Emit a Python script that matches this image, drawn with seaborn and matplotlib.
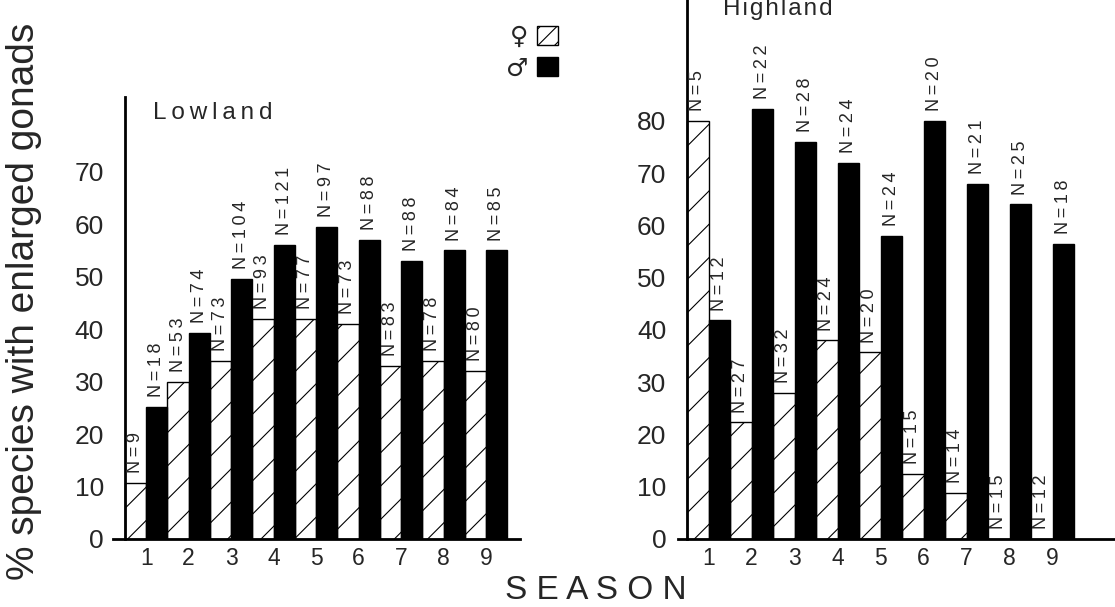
import numpy as np
import pandas as pd
import matplotlib
matplotlib.use("Agg")
import matplotlib.pyplot as plt
from matplotlib.patches import Patch
import seaborn as sns

seasons = ["1", "2", "3", "4", "5", "6", "7", "8", "9"]
low_female = [10.7, 30, 34, 42, 42, 41, 33, 34, 32]
low_male = [25.2, 39.3, 49.5, 56, 59.5, 57, 53, 55, 55]
high_female = [80, 22.3, 28, 38, 35.7, 12.5, 8.8, 0, 0]
high_male = [41.8, 82.3, 76, 72, 58, 80, 68, 64, 56.5]
low_female_n = [9, 53, 73, 93, 77, 73, 83, 78, 80]
low_male_n = [18, 74, 104, 121, 97, 88, 88, 84, 85]
high_female_n = [5, 27, 32, 24, 20, 15, 14, 15, 12]
high_male_n = [12, 22, 28, 24, 24, 20, 21, 25, 18]

sns.set_style("white")
plt.rcParams["font.family"] = ["Liberation Sans", "DejaVu Sans"]
plt.rcParams["hatch.linewidth"] = 0.8
plt.rcParams["hatch.color"] = "black"

W, H = 1115, 607
fig = plt.figure(figsize=(W / 100, H / 100), dpi=100)

def make_df(f, m):
    return pd.DataFrame({
        "season": seasons * 2,
        "pct": list(f) + list(m),
        "sex": ["F"] * len(seasons) + ["M"] * len(seasons),
    })

TS = "\u2009"

def nlabel(n):
    return TS.join("N=" + str(n))

def draw(ax, f, m, fn, mn, ytop, yticks):
    df = make_df(f, m)
    sns.barplot(data=df, x="season", y="pct", hue="sex", order=seasons,
                hue_order=["F", "M"], palette={"F": "white", "M": "black"},
                width=1.0, gap=0, edgecolor="black", linewidth=1.0,
                errorbar=None, legend=False, ax=ax, saturation=1)
    for p in ax.containers[0]:
        p.set_hatch("/")
        p.set_facecolor("white")
        p.set_edgecolor("black")
        p.set_linewidth(1.0)
    for c, ns in zip(ax.containers, [fn, mn]):
        ax.bar_label(c, labels=[nlabel(n) for n in ns], rotation=90,
                     padding=7, fontsize=13)
    ax.set_ylim(0, ytop)
    ax.set_yticks(yticks)
    ax.set_yticklabels([str(v) for v in yticks])
    ax.set_xticks(range(len(seasons)))
    ax.set_xticklabels(seasons)
    ax.set_xticks(np.arange(0.5, len(seasons), 1.0), minor=True)
    ax.tick_params(axis="x", which="major", length=0, labelsize=16.5, pad=6)
    ax.tick_params(axis="x", which="minor", length=7, width=1.6, direction="out")
    ax.tick_params(axis="y", which="major", length=8, width=1.6, direction="out",
                   labelsize=19, pad=7)
    for s in ["top", "right"]:
        ax.spines[s].set_visible(False)
    ax.spines["left"].set_position(("data", -0.5))
    for s in ["left", "bottom"]:
        ax.spines[s].set_linewidth(2)
        ax.spines[s].set_color("black")
    ax.set_xlabel("")
    ax.set_ylabel("")
    ax.set_facecolor("none")

# left panel (Lowland)
y0 = (H - 539) / H
axL = fig.add_axes([113 / W, y0, 407 / W, 442 / H])
draw(axL, low_female, low_male, low_female_n, low_male_n, 84.2, range(0, 71, 10))
axL.set_xlim(-0.78, 8.8)

# right panel (Highland)
axR = fig.add_axes([678 / W, y0, 437 / W, 539 / H])
draw(axR, high_female, high_male, high_female_n, high_male_n, 103.1, range(0, 81, 10))
axR.set_xlim(-0.71, 9.45)

hs = "\u200a"
fig.text(153 / W, 1 - 119 / H, TS.join("Lowland"), fontsize=17.5, va="baseline", ha="left")
fig.text(723 / W, 1 - 15 / H, hs.join("Highland"), fontsize=17.5, va="baseline", ha="left")
fig.text(24 / W, 1 - 301 / H, "% species with enlarged gonads", fontsize=28,
         rotation=90, ha="center", va="center")
fig.text(596 / W, 1 - 606 / H, " ".join("SEASON"), fontsize=24, ha="center", va="bottom")

handles = [Patch(facecolor="white", edgecolor="black", hatch="//", linewidth=1.0),
           Patch(facecolor="black", edgecolor="black")]
fig.legend(handles, ["\u2640", "\u2642"], loc="upper left",
           bbox_to_anchor=(506 / W, 1 - 25 / H), markerfirst=False, frameon=False,
           prop={"family": ["DejaVu Sans"], "size": 18}, handlelength=0.85,
           handleheight=0.8, handletextpad=0.35, labelspacing=0.3,
           borderpad=0, borderaxespad=0)

fig.savefig("out.png", dpi=100, facecolor="white")
